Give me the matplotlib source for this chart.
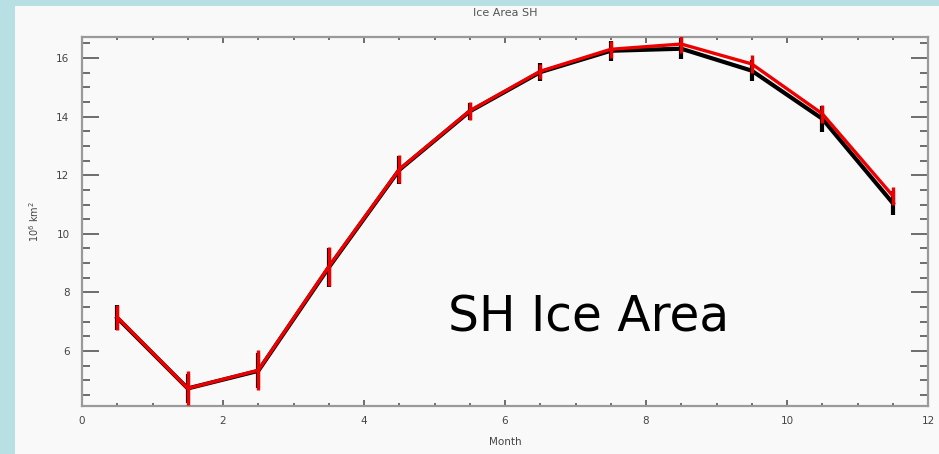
import matplotlib
matplotlib.use("Agg")
import matplotlib.pyplot as plt
from matplotlib.ticker import MultipleLocator
from matplotlib.patches import Rectangle

months = [0.5, 1.5, 2.5, 3.5, 4.5, 5.5, 6.5, 7.5, 8.5, 9.5, 10.5, 11.5]
area_black = [7.13, 4.72, 5.32, 8.85, 12.18, 14.18, 15.52, 16.25, 16.32, 15.57, 13.93, 11.05]
area_red = [7.15, 4.72, 5.34, 8.88, 12.2, 14.2, 15.55, 16.3, 16.48, 15.8, 14.1, 11.3]
err_black = [0.43, 0.5, 0.6, 0.66, 0.48, 0.3, 0.3, 0.35, 0.35, 0.35, 0.45, 0.4]
err_red = [0.43, 0.58, 0.68, 0.66, 0.48, 0.3, 0.25, 0.3, 0.3, 0.3, 0.3, 0.3]

W, H = 939, 454
fig = plt.figure(figsize=(W / 100, H / 100), dpi=100)
fig.patch.set_facecolor("#b8dfe3")
fig.patches.append(Rectangle((15 / W, 0), 1, (H - 6) / H, transform=fig.transFigure,
                             facecolor="#f9f9f9", edgecolor="none", zorder=-5))

ax = fig.add_axes([82 / W, 1 - 406 / H, (928 - 82) / W, (406 - 37) / H])
ax.set_zorder(1)
ax.set_facecolor("#f9f9f9")

ax.errorbar(months, area_black, yerr=err_black, color="black", lw=3, elinewidth=3,
            capsize=0, zorder=3)
ax.errorbar(months, area_red, yerr=err_red, color="#ee0000", lw=2.4, elinewidth=2.4,
            capsize=0, zorder=4)

ax.set_xlim(0, 12)
ax.set_ylim(4.12, 16.72)
ax.xaxis.set_major_locator(MultipleLocator(2))
ax.xaxis.set_minor_locator(MultipleLocator(0.5))
ax.yaxis.set_major_locator(MultipleLocator(2))
ax.yaxis.set_minor_locator(MultipleLocator(0.5))
ax.set_yticks([6, 8, 10, 12, 14, 16])

for s in ax.spines.values():
    s.set_color("#9a9a9a")
    s.set_linewidth(1.6)

ax.tick_params(axis="x", which="both", direction="in", top=True, bottom=True,
               color="#555555", labelcolor="#444444", labelsize=7.5, pad=7)
ax.tick_params(axis="x", which="major", length=4, width=1.2)
ax.tick_params(axis="x", which="minor", length=2.5, width=1.2)
ax.tick_params(axis="y", which="both", direction="in", left=True, right=True,
               color="#555555", labelcolor="#444444", labelsize=7.5, pad=9)
ax.tick_params(axis="y", which="major", length=12, width=1.2)
ax.tick_params(axis="y", which="minor", length=6, width=1.2)

ax.set_title("Ice Area SH", fontsize=8, color="#555555", pad=15)
ax.set_xlabel("Month", fontsize=7.5, color="#444444", labelpad=8)
ax.set_ylabel("10$^6$ km$^2$", fontsize=7, color="#444444", labelpad=11)

ax.text(7.19, 7.15, "SH Ice Area", fontsize=35, color="black",
        family=["DejaVu Sans"], va="center", ha="center")

fig.savefig("out.png", dpi=100, facecolor=fig.get_facecolor())
